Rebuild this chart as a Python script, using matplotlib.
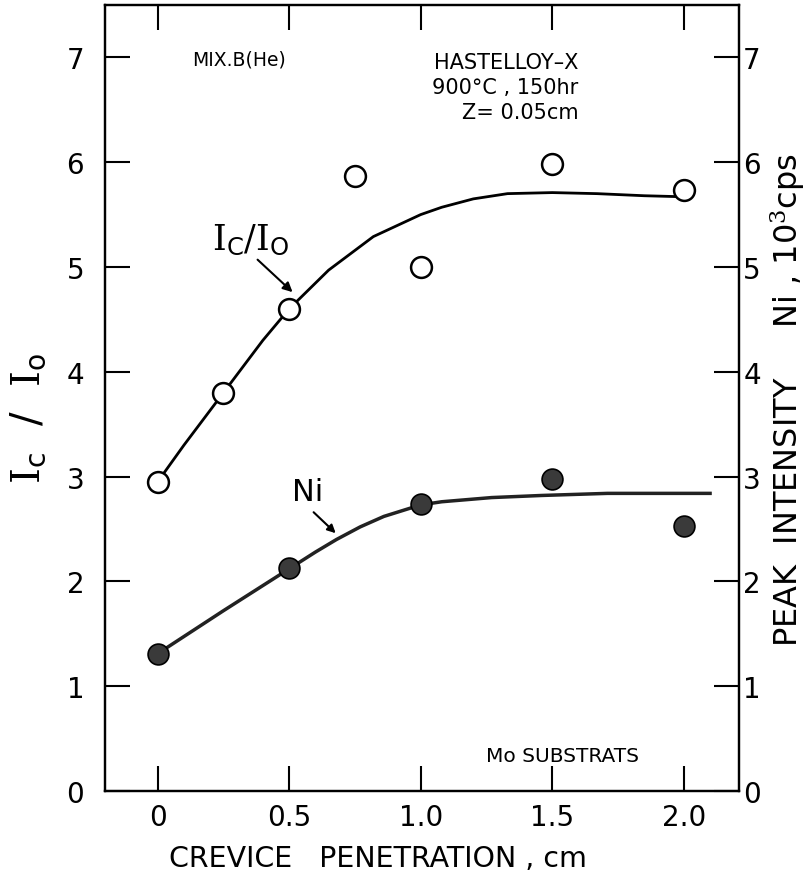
import matplotlib
matplotlib.use("Agg")
import matplotlib.pyplot as plt

# ---------------- data ----------------
ratio_x = [0.0, 0.25, 0.5, 0.75, 1.0, 1.5, 2.0]
ratio_y = [2.95, 3.8, 4.6, 5.87, 5.0, 5.98, 5.73]

ni_x = [0.0, 0.5, 1.0, 1.5, 2.0]
ni_y = [1.31, 2.13, 2.74, 2.98, 2.53]

ratio_curve_x = [0.0, 0.1, 0.25, 0.4, 0.5, 0.65, 0.82, 1.0, 1.08, 1.2, 1.33, 1.5, 1.67, 1.85, 2.0]
ratio_curve_y = [2.95, 3.30, 3.80, 4.30, 4.60, 4.97, 5.29, 5.50, 5.57, 5.65, 5.70, 5.71, 5.70, 5.68, 5.67]

ni_curve_x = [0.0, 0.25, 0.5, 0.6, 0.68, 0.77, 0.86, 1.0, 1.08, 1.27, 1.46, 1.71, 2.1]
ni_curve_y = [1.31, 1.72, 2.12, 2.28, 2.40, 2.52, 2.62, 2.73, 2.76, 2.80, 2.82, 2.84, 2.84]

x_ticks = [0, 0.5, 1.0, 1.5, 2.0]
x_ticklabels = ["0", "0.5", "1.0", "1.5", "2.0"]
y_ticks = [0, 1, 2, 3, 4, 5, 6, 7]

# ---------------- style ----------------
plt.rcParams["font.family"] = ["DejaVu Sans"]
plt.rcParams["mathtext.fontset"] = "dejavuserif"

fig = plt.figure(figsize=(8.10, 8.79), dpi=100)
ax = fig.add_axes([105 / 810, 1 - 792 / 879, (739 - 105) / 810, (792 - 6) / 879])

ax.set_xlim(-0.2, 2.21)
ax.set_ylim(0, 7.5)

for s in ax.spines.values():
    s.set_linewidth(1.6)

# curves
ax.plot(ratio_curve_x, ratio_curve_y, color="black", lw=2.0, zorder=2)
ax.plot(ni_curve_x, ni_curve_y, color="#222222", lw=2.5, zorder=2)

# points
ax.plot(ratio_x, ratio_y, linestyle="none", marker="o", markersize=15,
        markerfacecolor="white", markeredgecolor="black", markeredgewidth=1.8, zorder=3)
ax.plot(ni_x, ni_y, linestyle="none", marker="o", markersize=15,
        markerfacecolor="#3a3a3a", markeredgecolor="black", markeredgewidth=1.2, zorder=3)

# ticks
ax.set_xticks(x_ticks)
ax.set_xticklabels(x_ticklabels)
ax.set_yticks(y_ticks)
ax.tick_params(axis="both", direction="in", length=18, width=1.5, labelsize=20,
               top=True, right=False)
ax.tick_params(axis="x", pad=9)
ax.tick_params(axis="y", pad=15)

ax2 = ax.twinx()
ax2.set_ylim(ax.get_ylim())
ax2.set_yticks(y_ticks)
ax2.tick_params(axis="y", direction="in", length=18, width=1.5, labelsize=20, pad=3)
for s in ax2.spines.values():
    s.set_linewidth(1.6)

# axis labels
ax.set_xlabel("CREVICE   PENETRATION , cm", fontsize=20.5)
ax.xaxis.set_label_coords(0.43, -0.068)
ax.set_ylabel(r"$\mathrm{I}_{\mathsf{c}}$  /  $\mathrm{I}_{\mathsf{o}}$", fontsize=29)
ax.yaxis.set_label_coords(-0.088, 0.476)
ax2.set_ylabel(r"PEAK  INTENSITY     Ni , 10$^{3}$cps", fontsize=23)
ax2.yaxis.set_label_coords(1.046, 0.499)

# annotations
ax.text(0.13, 6.98, "MIX.B(He)", fontsize=13.5, ha="left", va="center")
ax.text(1.60, 6.96, "HASTELLOY\u2013X", fontsize=15, ha="right", va="center")
ax.text(1.60, 6.72, "900\u00b0C , 150hr", fontsize=15, ha="right", va="center")
ax.text(1.60, 6.48, "Z= 0.05cm", fontsize=15, ha="right", va="center")
ax.text(1.25, 0.34, "Mo SUBSTRATS", fontsize=14.5, ha="left", va="center")

ax.text(0.355, 5.26, r"$\mathrm{I}_{\mathsf{C}}/\mathrm{I}_{\mathsf{O}}$",
        fontsize=25, ha="center", va="center")
ax.annotate("", xy=(0.513, 4.76), xytext=(0.38, 5.07),
            arrowprops=dict(arrowstyle="-|>", color="black", lw=1.5,
                            shrinkA=0, shrinkB=0, mutation_scale=14))
ax.text(0.57, 2.86, "Ni", fontsize=22, ha="center", va="center")
ax.annotate("", xy=(0.677, 2.46), xytext=(0.593, 2.66),
            arrowprops=dict(arrowstyle="-|>", color="black", lw=1.5,
                            shrinkA=0, shrinkB=0, mutation_scale=12))

fig.savefig("out.png", dpi=100)
